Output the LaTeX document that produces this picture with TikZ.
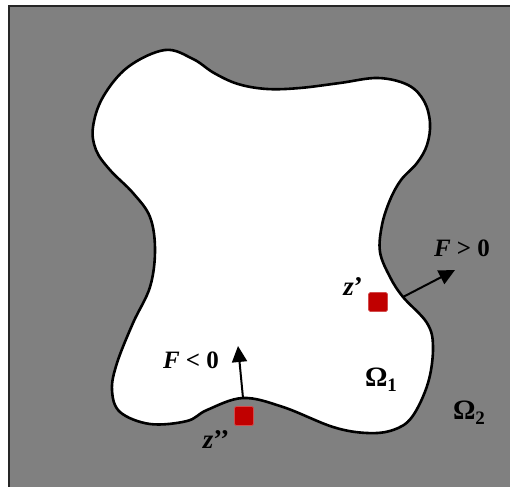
\documentclass[tikz,border=0pt]{standalone}
\usepackage{fontspec}
\setmainfont{Liberation Serif}
\usetikzlibrary{arrows.meta}
\definecolor{bggray}{RGB}{128,128,128}
\definecolor{ptred}{RGB}{192,0,0}
\newcommand{\omsub}[1]{Ω\raisebox{-5pt}{\fontsize{19}{22}\selectfont #1}}
\tikzset{
  lbl/.style={font=\fontsize{25}{29}\selectfont\bfseries, inner sep=0pt},
  zlbl/.style={font=\fontsize{27}{31}\selectfont\bfseries, inner sep=0pt},
  omlbl/.style={font=\fontsize{28}{32}\selectfont\bfseries, inner sep=0pt},
  pt/.style={fill=ptred, draw=ptred!70!white, line width=0.6pt, minimum size=19pt, inner sep=0pt, rounded corners=1.5pt},
  force/.style={line width=2pt, -{Triangle[length=16pt,width=15pt]}}
}
\begin{document}
\begin{tikzpicture}[x=1pt,y=-1pt]
\useasboundingbox (0,0) rectangle (510,486);
\fill[white] (0,0) rectangle (510,486);
\draw[fill=bggray, draw=black!85, line width=1.5pt] (9,6) rectangle (515,492);
\draw[fill=white, line width=2.6pt] plot[smooth cycle, tension=0.6] coordinates {
 (165,50) (193,59) (214,73) (238,84) (267,89) (300,88) (340,83) (378,78) (408,85) (424,101) (430,123)
 (427,145) (417,163) (401,180) (390,200) (382,225) (380,252) (390,277) (403,297) (427,323)
 (433,347) (428,383) (412,417) (393,430) (367,433) (333,427) (283,407) (243,398) (207,410)
 (187,421) (150,424) (120,412) (112,390) (117,363) (133,323) (150,287) (155,250) (150,217)
 (133,193) (110,170) (96,150) (93,127) (103,97) (128,67)
};
\node[pt] (zp) at (378,302) {};
\node[pt] (zpp) at (244,416) {};
\coordinate (a1s) at (403,297);
\coordinate (a1e) at (455,270);
\coordinate (a2s) at (243,398);
\coordinate (a2e) at (238,346);
\draw[force] (a1s) -- (a1e);
\draw[force] (a2s) -- (a2e);
\node[lbl] (fpos) at (462,248) {\textit{F} > 0};
\node[lbl] (fneg) at (191,360) {\textit{F} < 0};
\node[zlbl] (zl1) at (353,287) {\textit{z}’};
\node[zlbl] (zl2) at (216,440) {\textit{z}’’};
\node[omlbl] (om1) at (381,380) {\omsub{1}};
\node[omlbl] (om2) at (469,413) {\omsub{2}};
\end{tikzpicture}
\end{document}
